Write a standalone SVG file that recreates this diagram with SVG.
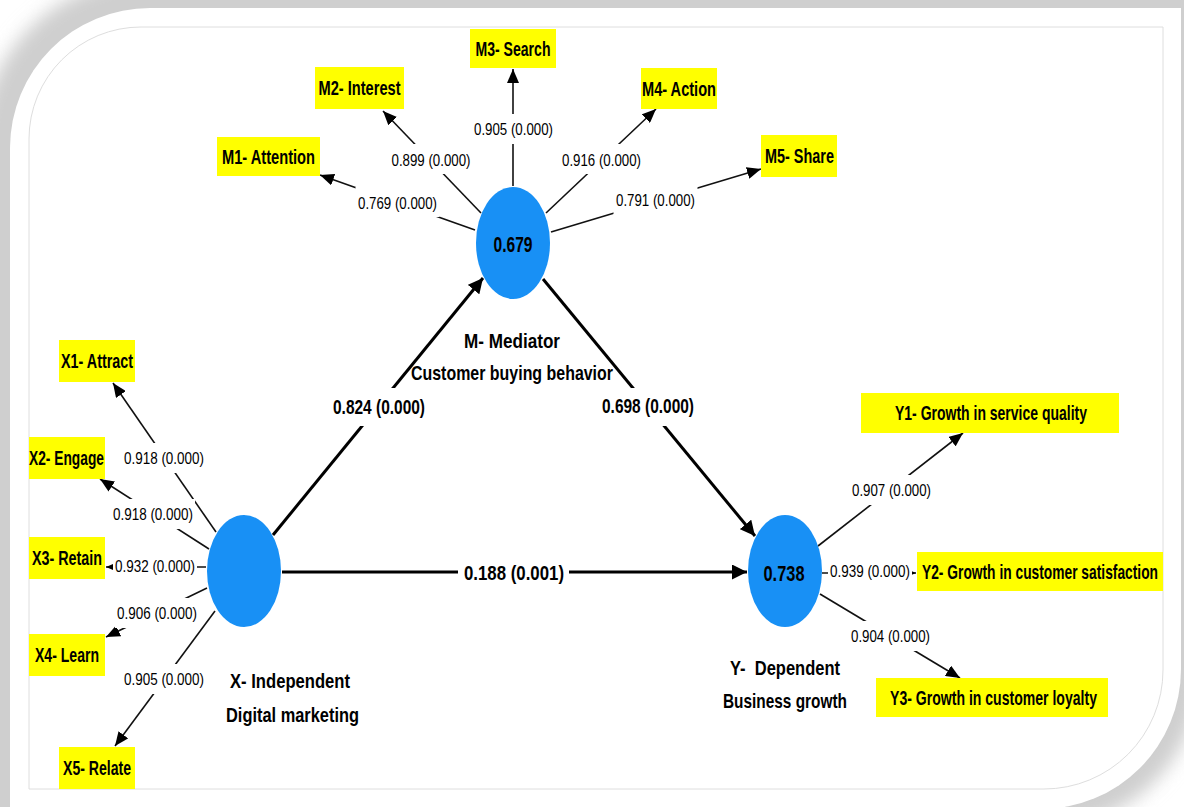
<svg xmlns="http://www.w3.org/2000/svg" width="1184" height="807" viewBox="0 0 1184 807">
<defs>
<style>
.t{font-family:"Liberation Sans",Arial,sans-serif;fill:#000;text-anchor:middle}
.s{font-size:17px}
.m{font-size:21px;font-weight:bold}
.b{font-size:21px;font-weight:bold}
.v{font-size:22px;font-weight:bold}
.ln{stroke:#111;stroke-width:1.6;fill:none;marker-end:url(#a)}
.mn{stroke:#000;stroke-width:3;fill:none;marker-end:url(#A)}
.lb{fill:#fff}
.box{fill:#ffff00}
.lv{fill:#1890f5}
</style>
<filter id="sh" x="-10%" y="-10%" width="120%" height="120%"><feGaussianBlur stdDeviation="9"/></filter>
<marker id="a" markerUnits="userSpaceOnUse" markerWidth="14" markerHeight="12" viewBox="0 0 14 12" refX="14" refY="6" orient="auto"><path d="M0,0 L14,6 L0,12 Z" fill="#000"/></marker>
<marker id="A" markerUnits="userSpaceOnUse" markerWidth="15" markerHeight="15" viewBox="0 0 15 15" refX="15" refY="7.5" orient="auto"><path d="M0,0 L15,7.5 L0,15 Z" fill="#000"/></marker>
</defs>
<g id="frame">
<rect width="1184" height="807" fill="#fff"/>
<path d="M -20 148 A 170 170 0 0 1 150 -22 L 1201 -22 L 1201 669 A 160 160 0 0 1 1041 829 L -20 829 Z" fill="#cfcfcf" filter="url(#sh)"/>
<path d="M 10 148 A 140 140 0 0 1 150 8 L 1181 8 L 1181 669 A 140 140 0 0 1 1041 809 L 10 809 Z" fill="#fff"/>
<path d="M 29 139 A 112 112 0 0 1 141 27 L 1163 27 L 1163 670 A 119 119 0 0 1 1044 789 L 29 789 Z" fill="none" stroke="#dedede" stroke-width="1"/>
</g>
<g id="connectors">
<line class="ln" x1="475" y1="230" x2="320" y2="175"/>
<line class="ln" x1="481" y1="213" x2="383" y2="111"/>
<line class="ln" x1="513" y1="186" x2="513" y2="69"/>
<line class="ln" x1="546" y1="213" x2="656" y2="109"/>
<line class="ln" x1="551" y1="232" x2="761" y2="169"/>
<line class="ln" x1="216" y1="532" x2="113" y2="383"/>
<line class="ln" x1="209" y1="549" x2="100" y2="479"/>
<line class="ln" x1="206" y1="567" x2="106" y2="567"/>
<line class="ln" x1="207" y1="588" x2="106" y2="637"/>
<line class="ln" x1="215" y1="611" x2="115" y2="746"/>
<line class="ln" x1="818" y1="546" x2="963" y2="433"/>
<line class="ln" x1="822" y1="573" x2="916" y2="573"/>
<line class="ln" x1="820" y1="594" x2="960" y2="678"/>
<line class="mn" x1="273" y1="535" x2="483" y2="278"/>
<line class="mn" x1="543" y1="279" x2="755" y2="536"/>
<line class="mn" x1="282" y1="572" x2="747" y2="572"/>
<rect class="lb" x="355.5" y="187" width="84" height="30"/>
<text class="t s" x="397.5" y="208.5" textLength="79" lengthAdjust="spacingAndGlyphs">0.769 (0.000)</text>
<rect class="lb" x="389" y="144" width="84" height="30"/>
<text class="t s" x="431" y="165.5" textLength="79" lengthAdjust="spacingAndGlyphs">0.899 (0.000)</text>
<rect class="lb" x="471.5" y="114" width="84" height="30"/>
<text class="t s" x="513.5" y="134.5" textLength="79" lengthAdjust="spacingAndGlyphs">0.905 (0.000)</text>
<rect class="lb" x="559.5" y="144" width="84" height="30"/>
<text class="t s" x="601.5" y="165.5" textLength="79" lengthAdjust="spacingAndGlyphs">0.916 (0.000)</text>
<rect class="lb" x="613.5" y="185" width="84" height="30"/>
<text class="t s" x="655.5" y="205.5" textLength="79" lengthAdjust="spacingAndGlyphs">0.791 (0.000)</text>
<rect class="lb" x="122" y="443" width="84" height="30"/>
<text class="t s" x="164" y="463.5" textLength="80" lengthAdjust="spacingAndGlyphs">0.918 (0.000)</text>
<rect class="lb" x="111" y="499" width="84" height="30"/>
<text class="t s" x="153" y="519.5" textLength="80" lengthAdjust="spacingAndGlyphs">0.918 (0.000)</text>
<rect class="lb" x="113" y="553" width="84" height="28"/>
<text class="t s" x="155" y="571.5" textLength="80" lengthAdjust="spacingAndGlyphs">0.932 (0.000)</text>
<rect class="lb" x="115" y="598" width="84" height="30"/>
<text class="t s" x="157" y="618.5" textLength="80" lengthAdjust="spacingAndGlyphs">0.906 (0.000)</text>
<rect class="lb" x="122" y="664" width="84" height="30"/>
<text class="t s" x="164" y="684.5" textLength="80" lengthAdjust="spacingAndGlyphs">0.905 (0.000)</text>
<rect class="lb" x="849.5" y="475" width="84" height="30"/>
<text class="t s" x="891.5" y="495.5" textLength="79" lengthAdjust="spacingAndGlyphs">0.907 (0.000)</text>
<rect class="lb" x="828" y="558" width="84" height="28"/>
<text class="t s" x="870" y="576.5" textLength="80" lengthAdjust="spacingAndGlyphs">0.939 (0.000)</text>
<rect class="lb" x="848.5" y="621" width="84" height="30"/>
<text class="t s" x="890.5" y="641.5" textLength="79" lengthAdjust="spacingAndGlyphs">0.904 (0.000)</text>
<rect class="lb" x="327" y="388" width="104" height="38"/>
<text class="t m" x="379" y="414" textLength="92" lengthAdjust="spacingAndGlyphs">0.824 (0.000)</text>
<rect class="lb" x="596" y="388" width="104" height="38"/>
<text class="t m" x="648" y="413" textLength="92" lengthAdjust="spacingAndGlyphs">0.698 (0.000)</text>
<rect class="lb" x="458" y="560" width="111" height="26"/>
<text class="t m" x="514" y="580" textLength="100" lengthAdjust="spacingAndGlyphs">0.188 (0.001)</text>
</g>
<g id="node-M">
<ellipse class="lv" cx="513" cy="243" rx="37" ry="56"/>
<text class="t v" x="513" y="252" textLength="39" lengthAdjust="spacingAndGlyphs">0.679</text>
<text class="t b" x="512" y="348" textLength="96" lengthAdjust="spacingAndGlyphs">M- Mediator</text>
<text class="t b" x="512" y="380" textLength="202" lengthAdjust="spacingAndGlyphs">Customer buying behavior</text>
</g>
<g id="node-X">
<ellipse class="lv" cx="244" cy="571" rx="37" ry="56"/>
<text class="t b" x="290" y="688" textLength="120" lengthAdjust="spacingAndGlyphs">X- Independent</text>
<text class="t b" x="292.5" y="722" textLength="133" lengthAdjust="spacingAndGlyphs">Digital marketing</text>
</g>
<g id="node-Y">
<ellipse class="lv" cx="785" cy="571" rx="37" ry="56"/>
<text class="t v" x="784" y="581" textLength="41" lengthAdjust="spacingAndGlyphs">0.738</text>
<text class="t b" x="785" y="675" textLength="110" lengthAdjust="spacingAndGlyphs" xml:space="preserve">Y-  Dependent</text>
<text class="t b" x="785" y="708" textLength="124" lengthAdjust="spacingAndGlyphs">Business growth</text>
</g>
<g id="node-M1"><rect class="box" x="217" y="137" width="103" height="39"/><text class="t b" x="268.5" y="163.5" textLength="93" lengthAdjust="spacingAndGlyphs">M1- Attention</text></g>
<g id="node-M2"><rect class="box" x="315" y="67" width="89" height="42"/><text class="t b" x="359.5" y="95" textLength="82" lengthAdjust="spacingAndGlyphs">M2- Interest</text></g>
<g id="node-M3"><rect class="box" x="470" y="29" width="86" height="39"/><text class="t b" x="513" y="55.5" textLength="75" lengthAdjust="spacingAndGlyphs">M3- Search</text></g>
<g id="node-M4"><rect class="box" x="641" y="68" width="76" height="41"/><text class="t b" x="679" y="95.5" textLength="74" lengthAdjust="spacingAndGlyphs">M4- Action</text></g>
<g id="node-M5"><rect class="box" x="761" y="135" width="76" height="42"/><text class="t b" x="799.5" y="163" textLength="69" lengthAdjust="spacingAndGlyphs">M5- Share</text></g>
<g id="node-X1"><rect class="box" x="59" y="340" width="76" height="42"/><text class="t b" x="97" y="368" textLength="72" lengthAdjust="spacingAndGlyphs">X1- Attract</text></g>
<g id="node-X2"><rect class="box" x="29" y="437" width="76" height="42"/><text class="t b" x="66.5" y="465" textLength="75" lengthAdjust="spacingAndGlyphs">X2- Engage</text></g>
<g id="node-X3"><rect class="box" x="29" y="537" width="76" height="42"/><text class="t b" x="67" y="565" textLength="70" lengthAdjust="spacingAndGlyphs">X3- Retain</text></g>
<g id="node-X4"><rect class="box" x="29" y="634" width="76" height="42"/><text class="t b" x="67" y="662" textLength="64" lengthAdjust="spacingAndGlyphs">X4- Learn</text></g>
<g id="node-X5"><rect class="box" x="59" y="747" width="76" height="42"/><text class="t b" x="97" y="775" textLength="68" lengthAdjust="spacingAndGlyphs">X5- Relate</text></g>
<g id="node-Y1"><rect class="box" x="861" y="393" width="258" height="40"/><text class="t b" x="991" y="420" textLength="192" lengthAdjust="spacingAndGlyphs">Y1- Growth in service quality</text></g>
<g id="node-Y2"><rect class="box" x="917" y="552" width="246" height="39"/><text class="t b" x="1040" y="578.5" textLength="236" lengthAdjust="spacingAndGlyphs">Y2- Growth in customer satisfaction</text></g>
<g id="node-Y3"><rect class="box" x="876" y="678" width="232" height="39"/><text class="t b" x="993.5" y="704.5" textLength="207" lengthAdjust="spacingAndGlyphs">Y3- Growth in customer loyalty</text></g>
</svg>
